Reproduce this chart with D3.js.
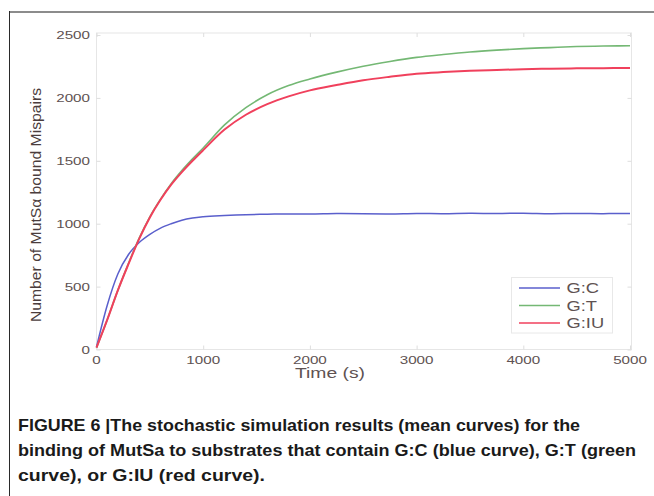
<!DOCTYPE html>
<html>
<head>
<meta charset="utf-8">
<script src="https://cdn.jsdelivr.net/npm/d3@7"></script>
<style>
  html, body { margin: 0; padding: 0; background: #fff; }
  svg { display: block; }
</style>
</head>
<body>
<svg id="chart" width="654" height="496"></svg>
<script>
// ---- data ----
const times = [0,100,200,300,400,500,600,700,800,900,1000,1200,1400,1600,1800,2000,2250,2500,2750,3000,3250,3500,3750,4000,4250,4500,4750,5000];
const seriesGC = [20,350,600,755,850,915,965,1000,1028,1045,1055,1065,1072,1075,1078,1078,1082,1080,1078,1082,1080,1083,1081,1084,1080,1082,1080,1082];
const seriesGT = [15,235,470,685,885,1055,1195,1318,1422,1515,1602,1785,1922,2025,2098,2150,2205,2252,2290,2322,2345,2365,2380,2392,2400,2408,2412,2415];
const seriesGIU = [15,235,470,680,880,1050,1190,1310,1410,1500,1585,1748,1866,1950,2012,2060,2102,2140,2168,2192,2205,2215,2222,2228,2232,2235,2236,2238];
const seriesNames = ["G:C", "G:T", "G:IU"];
const xTicks = [0,1000,2000,3000,4000,5000];
const yTicks = [0,500,1000,1500,2000,2500];
const xTitle = "Time (s)";
const yTitle = "Number of MutSα bound Mispairs";
const captionLines = [
  "FIGURE 6 |The stochastic simulation results (mean curves) for the",
  "binding of MutSa to substrates that contain G:C (blue curve), G:T (green",
  "curve), or G:IU (red curve)."
];

// ---- drawing ----
const svg = d3.select("#chart");
const colors = ["#5a5fcc", "#74b874", "#f0405c"];
const widths = [1.5, 1.6, 2];
const series = [seriesGC, seriesGT, seriesGIU];
const labelColor = "#5e5252";
const SX = 1.38;

const x = d3.scaleLinear().domain([0, 5000]).range([96.5, 630]);
const y = d3.scaleLinear().domain([0, 2500]).range([349.5, 35]);

// outer figure frame
svg.append("line").attr("x1", 9).attr("x2", 654).attr("y1", 12).attr("y2", 12)
  .attr("stroke", "#8c8c8c").attr("stroke-width", 2);
svg.append("line").attr("x1", 9.5).attr("x2", 9.5).attr("y1", 11).attr("y2", 496)
  .attr("stroke", "#2a2a2a").attr("stroke-width", 1);

// plot box with inward ticks
const [x0, x1] = x.range();
const [yb, yt] = y.range();
const boxRight = x1 + 1.5;
const boxTop = yt - 2;
svg.append("rect").attr("x", x0).attr("y", boxTop).attr("width", boxRight - x0).attr("height", yb - boxTop)
  .attr("fill", "none").attr("stroke", "#e6e6e6").attr("stroke-width", 1);

function styleAxis(g) {
  g.select(".domain").remove();
  g.selectAll(".tick line").attr("stroke", "#dedede");
}
svg.append("g").attr("transform", `translate(0,${yb})`)
  .call(d3.axisBottom(x).tickValues(xTicks).tickSize(-4).tickFormat("")).call(styleAxis);
svg.append("g").attr("transform", `translate(0,${boxTop})`)
  .call(d3.axisTop(x).tickValues(xTicks).tickSize(-4).tickFormat("")).call(styleAxis);
svg.append("g").attr("transform", `translate(${x0},0)`)
  .call(d3.axisLeft(y).tickValues(yTicks).tickSize(-4).tickFormat("")).call(styleAxis);
svg.append("g").attr("transform", `translate(${boxRight},0)`)
  .call(d3.axisRight(y).tickValues(yTicks).tickSize(-4).tickFormat("")).call(styleAxis);

// tick labels (horizontally stretched like the original)
const fontFam = "'Liberation Sans', Arial, Helvetica, sans-serif";
svg.append("g").selectAll("text").data(xTicks).join("text")
  .attr("transform", d => `translate(${x(d)},364) scale(${SX},1)`)
  .attr("text-anchor", "middle")
  .attr("font-family", fontFam).attr("font-size", 11).attr("fill", labelColor)
  .text(d => d);
svg.append("g").selectAll("text").data(yTicks).join("text")
  .attr("transform", d => `translate(90,${y(d) + 4}) scale(${SX},1)`)
  .attr("text-anchor", "end")
  .attr("font-family", fontFam).attr("font-size", 11).attr("fill", labelColor)
  .text(d => d);

// axis titles
svg.append("text")
  .attr("transform", `translate(330,378) scale(${SX},1)`)
  .attr("text-anchor", "middle")
  .attr("font-family", fontFam).attr("font-size", 14).attr("fill", labelColor)
  .text(xTitle);
svg.append("text")
  .attr("transform", `translate(41,205) rotate(-90)`)
  .attr("text-anchor", "middle")
  .attr("font-family", fontFam).attr("font-size", 14.5).attr("fill", "#4b3d3d")
  .attr("textLength", 234).attr("lengthAdjust", "spacingAndGlyphs")
  .text(yTitle);

// curves
const line = d3.line().x((d, i) => x(times[i])).y(d => y(d)).curve(d3.curveMonotoneX);
series.forEach((s, k) => {
  svg.append("path").datum(s)
    .attr("d", line)
    .attr("fill", "none")
    .attr("stroke", colors[k])
    .attr("stroke-width", widths[k])
    .attr("stroke-linejoin", "round");
});

// legend
const lg = svg.append("g");
lg.append("rect").attr("x", 511.5).attr("y", 277.5).attr("width", 101).attr("height", 55.5)
  .attr("fill", "#fff").attr("stroke", "#e8e8e8");
seriesNames.forEach((name, k) => {
  const ly = 288 + k * 17.5;
  lg.append("line").attr("x1", 519).attr("x2", 560).attr("y1", ly).attr("y2", ly)
    .attr("stroke", colors[k]).attr("stroke-width", 1.5);
  lg.append("text")
    .attr("transform", `translate(566.5,${ly + 5.3}) scale(1.22,1)`)
    .attr("font-family", fontFam).attr("font-size", 15).attr("fill", labelColor)
    .text(name);
});

// caption
const capWidths = [562, 618, 247];
captionLines.forEach((t, i) => {
  svg.append("text")
    .attr("x", 18).attr("y", 431 + i * 25)
    .attr("font-family", "'Liberation Sans Narrow', 'Arial Narrow', 'Liberation Sans', Arial, sans-serif")
    .attr("font-weight", "bold").attr("font-size", 17).attr("fill", "#1a1a1a")
    .attr("textLength", capWidths[i]).attr("lengthAdjust", "spacingAndGlyphs")
    .text(t);
});
</script>
</body>
</html>
